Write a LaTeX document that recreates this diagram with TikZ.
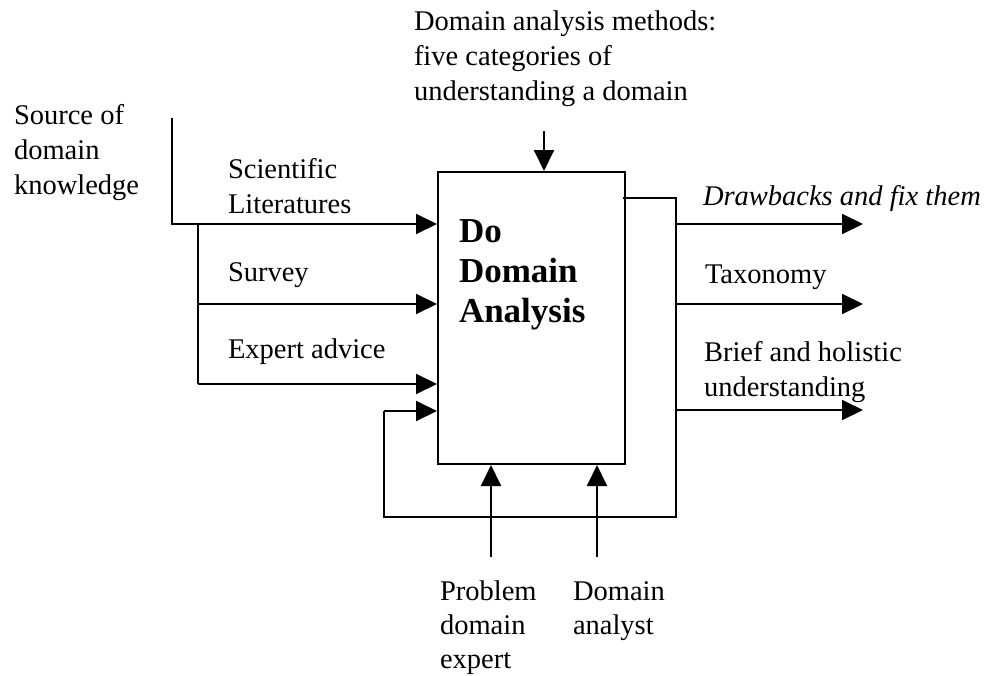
\documentclass[tikz,border=0pt]{standalone}
\usepackage{fontspec}
\setmainfont{Liberation Serif}
\usetikzlibrary{arrows.meta}
\begin{document}
\begin{tikzpicture}[x=1pt,y=-1pt, line width=2pt,
  arr/.style={-{Triangle[length=21pt,width=20pt]}},
  txt/.style={anchor=base west, inner sep=0pt, font=\fontsize{28.5}{35}\selectfont, align=left},
  ttl/.style={anchor=base west, inner sep=0pt, font=\fontsize{35}{40}\selectfont\bfseries, align=left},
  boxst/.style={draw, rectangle, inner sep=0pt, minimum width=187pt, minimum height=292pt}
]
\useasboundingbox (0,0) rectangle (991,675);
% main box
\node[boxst] (box) at (531.5,318) {};
\node[ttl] (title) at (458,322) {Do\\Domain\\Analysis};
% labels (anchor = baseline of last line)
\node[txt] (mech) at (413,100) {Domain analysis methods:\\five categories of\\understanding a domain};
\node[txt] (src) at (13,194) {Source of\\domain\\knowledge};
\node[txt] (sci) at (227,213) {Scientific\\Literatures};
\node[txt] (surv) at (227,281) {Survey};
\node[txt] (expa) at (227,358) {Expert advice};
\node[txt,font=\fontsize{28.5}{35}\selectfont\itshape] (drw) at (702,205) {Drawbacks and fix them};
\node[txt] (tax) at (704,283) {Taxonomy};
\node[txt] (brief) at (703,396) {Brief and holistic\\understanding};
\node[txt,font=\fontsize{28.5}{34}\selectfont] (pde) at (439,668) {Problem\\domain\\expert};
\node[txt,font=\fontsize{28.5}{34}\selectfont] (dan) at (572,634) {Domain\\analyst};
% coordinates
\coordinate (srctop) at (172,118);
\coordinate (yA) at (0,224);
\coordinate (yB) at (0,304);
\coordinate (yC) at (0,384);
\coordinate (yD) at (0,411);
\coordinate (yF) at (0,198);
\coordinate (yO3) at (0,410);
\coordinate (brx) at (198,0);
\coordinate (busx) at (676,0);
\coordinate (fbx) at (384,0);
\coordinate (fby) at (0,517);
\coordinate (tipx) at (863,0);
\coordinate (ctop) at (544,131);
\coordinate (cb1) at (491,557);
\coordinate (cb2) at (597,557);
% inputs
\draw[arr] (srctop) |- (box.west |- yA);
\draw (brx |- yA) -- (brx |- yC);
\draw[arr] (brx |- yB) -- (box.west |- yB);
\draw[arr] (brx |- yC) -- (box.west |- yC);
% control
\draw[arr] (ctop) -- (ctop |- box.north);
% mechanisms
\draw[arr] (cb1) -- (cb1 |- box.south);
\draw[arr] (cb2) -- (cb2 |- box.south);
% output bus and feedback
\draw ([xshift=-3pt]box.east |- yF) -- (busx |- yF) -- (busx |- fby) -- (fbx |- fby) -- (fbx |- yD);
\draw[arr] (fbx |- yD) -- (box.west |- yD);
\draw[arr] (busx |- yA) -- (tipx |- yA);
\draw[arr] (busx |- yB) -- (tipx |- yB);
\draw[arr] (busx |- yO3) -- (tipx |- yO3);
\end{tikzpicture}
\end{document}
